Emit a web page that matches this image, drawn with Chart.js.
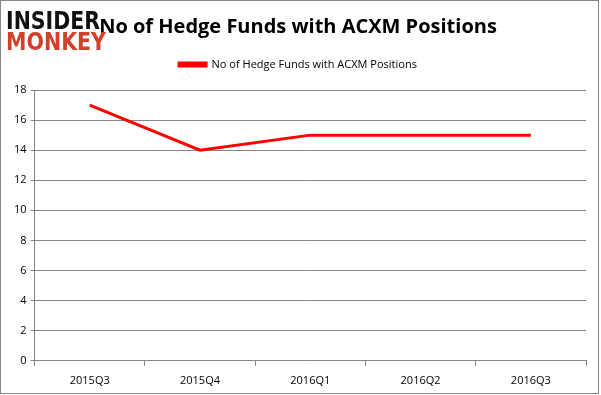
<!DOCTYPE html>
<html>
	<head>
		<title>ACXM</title>
		<meta charset="UTF-8">
		<script src="https://cdn.jsdelivr.net/npm/chart.js@4/dist/chart.umd.min.js"></script>
		<style>
			body { margin: 0; background: #fff; }
		</style>
	</head>
	<body>
		<canvas id="chart" width="601" height="395"></canvas>

		<script>
			var quarters = ["2015Q3", "2015Q4", "2016Q1", "2016Q2", "2016Q3"]
			var hedgeFunds = [17, 14, 15, 15, 15]
			var seriesName = "No of Hedge Funds with ACXM Positions"

			// frame around the picture and the logo in the corner
			var decor = {
				id: "decor",
				beforeInit: function(chart){
					// a bit more room below the legend
					let fit = chart.legend.fit
					chart.legend.fit = function(){
						fit.call(chart.legend)
						this.height += 10
					}
				},
				afterDraw: function(chart){
					let c = chart.ctx
					c.save()
					c.strokeStyle = "#868686"
					c.lineWidth = 1
					c.strokeRect(0.5, 0.5, 598, 393)
					c.textBaseline = "alphabetic"
					c.font = "bold 24px 'DejaVu Sans'"
					c.fillStyle = "#111"
					fitText(c, "INSIDER", 6, 29, 94)
					c.fillStyle = "#d2402a"
					fitText(c, "MONKEY", 6, 50, 100)
					c.restore()
				}
			}

			function fitText(c, txt, x, y, w){
				let m = c.measureText(txt).width
				c.save()
				c.translate(x, y)
				c.scale(w / m, 1)
				c.fillText(txt, 0, 0)
				c.restore()
			}

			let ctx = document.getElementById("chart").getContext("2d")
			let acxmChart = new Chart(ctx, {
				type: "line",
				data: {
					labels: quarters,
					datasets: [{
						label: seriesName,
						data: hedgeFunds,
						borderColor: "#ff0000",
						backgroundColor: "#ff0000",
						borderWidth: 3,
						pointRadius: 0,
						tension: 0
					}]
				},
				options: {
					responsive: false,
					animation: false,
					layout: { padding: { left: 10, right: 15, top: 11, bottom: 0 } },
					plugins: {
						title: {
							display: true,
							text: seriesName,
							color: "#000",
							font: { family: "'Open Sans'", size: 20, weight: "bold" },
							padding: { top: 4, bottom: 10 }
						},
						legend: {
							labels: {
								color: "#000",
								font: { family: "'Open Sans'", size: 11 },
								boxWidth: 27,
								boxHeight: 3
							}
						},
						tooltip: { enabled: false }
					},
					scales: {
						x: {
							offset: true,
							grid: {
								offset: true,
								drawOnChartArea: false,
								drawTicks: true,
								tickLength: 5,
								color: "#868686"
							},
							border: { color: "#868686" },
							ticks: {
								color: "#000",
								font: { family: "'Open Sans'", size: 11 },
								padding: 8
							}
						},
						y: {
							min: 0,
							max: 18,
							ticks: {
								stepSize: 2,
								color: "#000",
								font: { family: "'Open Sans'", size: 11 },
								padding: 4
							},
							grid: { color: "#868686", tickLength: 4 },
							border: { color: "#868686" }
						}
					}
				},
				plugins: [decor]
			})
		</script>
	</body>
</html>
